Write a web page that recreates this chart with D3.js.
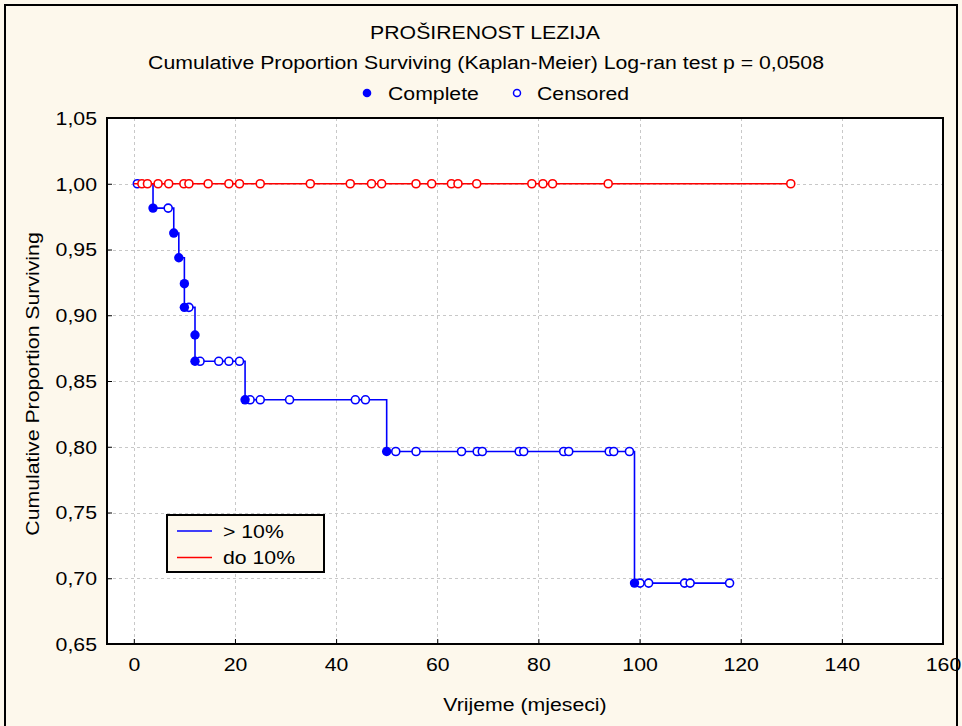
<!DOCTYPE html>
<html>
<head>
<meta charset="utf-8">
<script src="https://cdn.jsdelivr.net/npm/d3@7"></script>
<style>
  html, body { margin: 0; padding: 0; background: #fdf8ec; }
  svg { display: block; font-family: "Liberation Sans", Arial, sans-serif; }
</style>
</head>
<body>
<svg id="chart" width="962" height="726"></svg>
<script>
// ---- data ----
const titleText = "PROŠIRENOST LEZIJA";
const subtitleText = "Cumulative Proportion Surviving (Kaplan-Meier) Log-ran test p = 0,0508";
const xTicks = [0, 20, 40, 60, 80, 100, 120, 140, 160];
const yTicks = [0.65, 0.70, 0.75, 0.80, 0.85, 0.90, 0.95, 1.00, 1.05];
const groupNames = ["> 10%", "do 10%"];

// group "> 10%" step function: time of step, survival after step
const blueStepTimes  = [0, 3.8, 7.9, 8.9, 10.0, 12.1, 22.0, 50.0, 99.0, 117.8];
const blueStepValues = [1.0, 0.9815, 0.9625, 0.9437, 0.906, 0.865, 0.8357, 0.7964, 0.6963, 0.6963];
// complete (event) observations
const blueCompleteTimes  = [3.8, 7.9, 8.9, 10.0, 10.0, 12.1, 12.1, 22.0, 50.0, 99.0];
const blueCompleteValues = [0.9815, 0.9625, 0.9437, 0.924, 0.906, 0.885, 0.865, 0.8357, 0.7964, 0.6963];
// censored observations
const blueCensoredTimes  = [0.7, 6.8, 10.9, 13.1, 16.8, 18.8, 20.9, 23.0, 25.0, 30.8, 43.8, 45.8,
                            51.8, 55.8, 64.8, 67.9, 68.9, 76.2, 77.1, 85.0, 86.0, 94.0, 94.9, 98.0,
                            100.1, 101.8, 108.9, 110.0, 117.8];
const blueCensoredValues = [1.0, 0.9815, 0.906, 0.865, 0.865, 0.865, 0.865, 0.8357, 0.8357, 0.8357, 0.8357, 0.8357,
                            0.7964, 0.7964, 0.7964, 0.7964, 0.7964, 0.7964, 0.7964, 0.7964, 0.7964, 0.7964, 0.7964, 0.7964,
                            0.6963, 0.6963, 0.6963, 0.6963, 0.6963];

// group "do 10%": no events
const redStepTimes  = [0, 129.9];
const redStepValues = [1.0, 1.0];
const redCensoredTimes = [1.6, 2.7, 4.8, 6.9, 9.9, 10.9, 14.7, 18.8, 20.9, 25.0, 34.9, 42.8, 47.0, 49.0,
                          55.8, 58.9, 62.8, 64.1, 67.8, 78.7, 80.9, 82.8, 93.8, 129.9];
const redCensoredValues = redCensoredTimes.map(() => 1.0);

// ---- drawing ----
const svg = d3.select("#chart");
const W = 962, H = 726;
const plot = { left: 107, right: 943, top: 118, bottom: 644 };
const blue = "#0000ff", red = "#ff0000";

svg.append("rect").attr("x", 0).attr("y", 0).attr("width", W).attr("height", H).attr("fill", "#fdf8ec");
svg.append("rect").attr("x", 5).attr("y", 5).attr("width", W - 10).attr("height", H + 10)
  .attr("fill", "none").attr("stroke", "#000").attr("stroke-width", 2);

const x = d3.scaleLinear().domain([-5.3, 160]).range([plot.left, plot.right]);
const y = d3.scaleLinear().domain([0.65, 1.05]).range([plot.bottom, plot.top]);

svg.append("rect").attr("x", plot.left).attr("y", plot.top)
  .attr("width", plot.right - plot.left).attr("height", plot.bottom - plot.top)
  .attr("fill", "#fff");

// grid
const grid = svg.append("g").attr("stroke", "#c8c8c8").attr("stroke-width", 1).attr("stroke-dasharray", "3,3");
grid.selectAll("line.v").data(xTicks).join("line")
  .attr("x1", d => Math.round(x(d)) + 0.5).attr("x2", d => Math.round(x(d)) + 0.5)
  .attr("y1", plot.top).attr("y2", plot.bottom);
grid.selectAll("line.h").data(yTicks).join("line")
  .attr("y1", d => Math.round(y(d)) + 0.5).attr("y2", d => Math.round(y(d)) + 0.5)
  .attr("x1", plot.left).attr("x2", plot.right);

// axes
const xAxis = d3.axisBottom(x).tickValues(xTicks).tickSize(-5).tickPadding(14).tickFormat(d3.format("d"));
const yAxis = d3.axisLeft(y).tickValues(yTicks).tickSize(-5).tickPadding(10)
  .tickFormat(d => d3.format(".2f")(d).replace(".", ","));
const gx = svg.append("g").attr("transform", `translate(0,${plot.bottom})`).call(xAxis);
const gy = svg.append("g").attr("transform", `translate(${plot.left},0)`).call(yAxis);
[gx, gy].forEach(g => {
  g.select(".domain").remove();
  g.selectAll(".tick line").attr("stroke", "#000").attr("stroke-width", 1);
  g.selectAll(".tick text").attr("font-size", 18).attr("fill", "#000").attr("font-family", "Liberation Sans, Arial, sans-serif");
});
gx.selectAll(".tick text").attr("dy", "0.71em");
gy.selectAll(".tick text").attr("dy", "0.36em");

// lines
const line = d3.line().x(d => x(d[0])).y(d => y(d[1])).curve(d3.curveStepAfter);
const blueSteps = blueStepTimes.map((t, i) => [t, blueStepValues[i]]);
const redSteps = redStepTimes.map((t, i) => [t, redStepValues[i]]);

svg.append("path").datum(blueSteps).attr("d", line).attr("fill", "none").attr("stroke", blue).attr("stroke-width", 1.6);

const blueComplete = blueCompleteTimes.map((t, i) => [t, blueCompleteValues[i]]);
const blueCensored = blueCensoredTimes.map((t, i) => [t, blueCensoredValues[i]]);
svg.append("g").selectAll("circle").data(blueCensored).join("circle")
  .attr("cx", d => x(d[0])).attr("cy", d => y(d[1])).attr("r", 4)
  .attr("fill", "#fff").attr("stroke", blue).attr("stroke-width", 1.6);
svg.append("g").selectAll("circle").data(blueComplete).join("circle")
  .attr("cx", d => x(d[0])).attr("cy", d => y(d[1])).attr("r", 4.7)
  .attr("fill", blue).attr("stroke", "none");

svg.append("path").datum(redSteps).attr("d", line).attr("fill", "none").attr("stroke", red).attr("stroke-width", 1.6);
const redCensored = redCensoredTimes.map((t, i) => [t, redCensoredValues[i]]);
svg.append("g").selectAll("circle").data(redCensored).join("circle")
  .attr("cx", d => x(d[0])).attr("cy", d => y(d[1])).attr("r", 4)
  .attr("fill", "#fff").attr("stroke", red).attr("stroke-width", 1.6);

// frame
svg.append("rect").attr("x", plot.left).attr("y", plot.top)
  .attr("width", plot.right - plot.left).attr("height", plot.bottom - plot.top)
  .attr("fill", "none").attr("stroke", "#000").attr("stroke-width", 2);

// titles
const texts = svg.append("g").attr("font-size", 18).attr("fill", "#000");
texts.append("text").attr("x", 485).attr("y", 39).attr("text-anchor", "middle").text(titleText);
texts.append("text").attr("x", 486).attr("y", 69).attr("text-anchor", "middle").text(subtitleText);
texts.append("text").attr("x", 525).attr("y", 711).attr("text-anchor", "middle").text("Vrijeme (mjeseci)");
texts.append("text").attr("transform", "translate(39,384) rotate(-90)").attr("text-anchor", "middle")
  .text("Cumulative Proportion Surviving");

// top legend (marker types)
svg.append("circle").attr("cx", 367).attr("cy", 93).attr("r", 4.3).attr("fill", blue);
texts.append("text").attr("x", 388).attr("y", 99.5).text("Complete");
svg.append("circle").attr("cx", 517).attr("cy", 93).attr("r", 3.5).attr("fill", "#fff")
  .attr("stroke", blue).attr("stroke-width", 1.5);
texts.append("text").attr("x", 537).attr("y", 99.5).text("Censored");

// group legend
const lg = svg.append("g");
lg.append("rect").attr("x", 167).attr("y", 515).attr("width", 157).attr("height", 57)
  .attr("fill", "#fdf8ec").attr("stroke", "#000").attr("stroke-width", 2);
const legColors = [blue, red];
groupNames.forEach((name, i) => {
  const yy = 531 + i * 26.5;
  lg.append("line").attr("x1", 177).attr("x2", 212).attr("y1", yy).attr("y2", yy)
    .attr("stroke", legColors[i]).attr("stroke-width", 1.6);
  lg.append("text").attr("x", 223).attr("y", yy + 6.5).attr("font-size", 18).text(name);
});

// horizontal stretch of the text, as in the reference
svg.selectAll("text").each(function () {
  const len = this.getComputedTextLength();
  d3.select(this).attr("textLength", (len * 1.18).toFixed(1)).attr("lengthAdjust", "spacingAndGlyphs");
});
</script>
</body>
</html>
